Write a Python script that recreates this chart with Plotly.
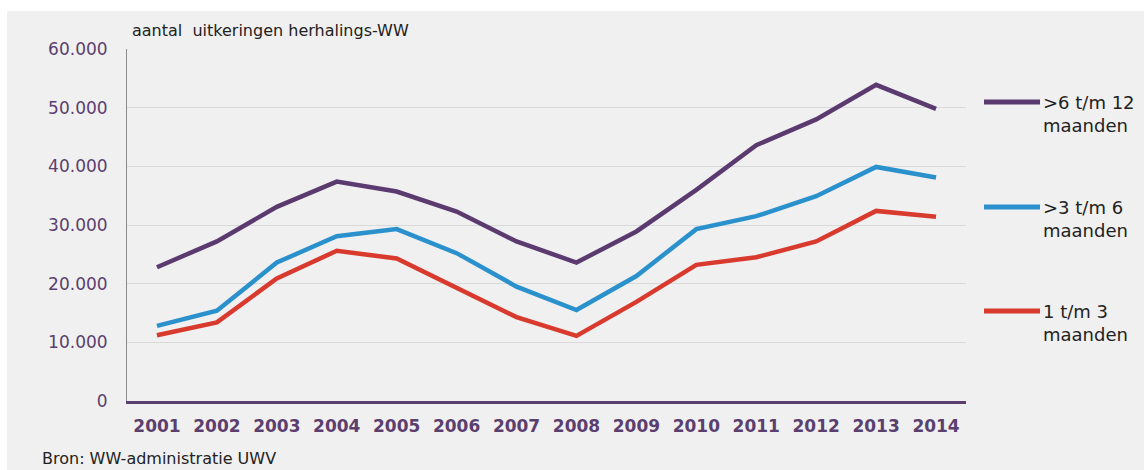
import plotly.graph_objects as go

years = ["2001", "2002", "2003", "2004", "2005", "2006", "2007",
         "2008", "2009", "2010", "2011", "2012", "2013", "2014"]
duur_6_12 = [22800, 27200, 33100, 37400, 35700, 32300, 27200,
             23600, 28900, 36000, 43600, 48000, 53900, 49800]
duur_3_6 = [12800, 15400, 23600, 28100, 29300, 25200, 19500,
            15500, 21300, 29300, 31500, 34900, 39900, 38100]
duur_1_3 = [11200, 13400, 20900, 25600, 24300, 19200, 14300,
            11100, 16900, 23200, 24500, 27200, 32400, 31400]
series_names = [">6 t/m 12<br>maanden", ">3 t/m 6<br>maanden", "1 t/m 3<br>maanden"]
series_colors = ["#5b3a6f", "#2b91cd", "#d93a2e"]
y_ticks = [0, 10000, 20000, 30000, 40000, 50000, 60000]

W, H = 1144, 470
L, R, T, B = 127, 966, 49, 401  # plot area in px

def px_x(x):
    return (x - L) / (R - L)

def px_y(y):
    return (B - y) / (B - T)

fig = go.Figure()
for vals, name, col in zip([duur_6_12, duur_3_6, duur_1_3], series_names, series_colors):
    fig.add_trace(go.Scatter(x=years, y=vals, mode="lines", name=name,
                             line=dict(color=col, width=4.5), showlegend=False))

tick_col = "#5b3f6e"
font_fam = "DejaVu Sans, Verdana, sans-serif"

shapes = [
    dict(type="rect", xref="paper", yref="paper", x0=px_x(7), x1=px_x(W + 5),
         y0=px_y(11), y1=px_y(H + 5), fillcolor="#f0f0f0", line=dict(width=0), layer="below"),
]
annotations = [
    dict(text="aantal\u00a0 uitkeringen herhalings-WW", xref="paper", yref="paper",
         x=px_x(130), y=px_y(30), xanchor="left", yanchor="middle", showarrow=False,
         font=dict(family=font_fam, size=16, color="#222222")),
    dict(text="Bron: WW-administratie UWV", xref="paper", yref="paper",
         x=px_x(40), y=px_y(458), xanchor="left", yanchor="middle", showarrow=False,
         font=dict(family=font_fam, size=16, color="#222222")),
]
legend_y = [102, 207, 311]
for name, col, ly in zip(series_names, series_colors, legend_y):
    shapes.append(dict(type="line", xref="paper", yref="paper", x0=px_x(984), x1=px_x(1040),
                       y0=px_y(ly), y1=px_y(ly), line=dict(color=col, width=5)))
    annotations.append(dict(text=name, xref="paper", yref="paper", x=px_x(1041),
                            y=px_y(ly + 12), xanchor="left", yanchor="middle",
                            align="left", showarrow=False,
                            font=dict(family=font_fam, size=18, color="#222222")))

fig.update_layout(
    width=W, height=H,
    margin=dict(l=L, r=W - R, t=T, b=H - B, pad=0),
    paper_bgcolor="white", plot_bgcolor="rgba(0,0,0,0)",
    separators=",.",
    shapes=shapes, annotations=annotations,
    xaxis=dict(type="category", range=[-0.5, len(years) - 0.5], showgrid=False,
               showline=True, linecolor=tick_col,
               linewidth=2.5, ticks="", ticklabelstandoff=8,
               tickfont=dict(family="DejaVu Sans, Verdana, sans-serif", size=17,
                             color=tick_col, weight="bold")),
    yaxis=dict(range=[0, 60000], tickvals=y_ticks, tickformat=",d",
               showgrid=True, gridcolor="#d9d9d9", gridwidth=1, zeroline=False,
               showline=True, linecolor="#8c8c8c", linewidth=1, ticks="",
               ticklabelstandoff=15,
               tickfont=dict(family=font_fam, size=17, color=tick_col)),
)

fig.write_html("out.html", config={"displayModeBar": False},
               post_script="document.body.style.margin='0';document.body.style.overflow='hidden';")
